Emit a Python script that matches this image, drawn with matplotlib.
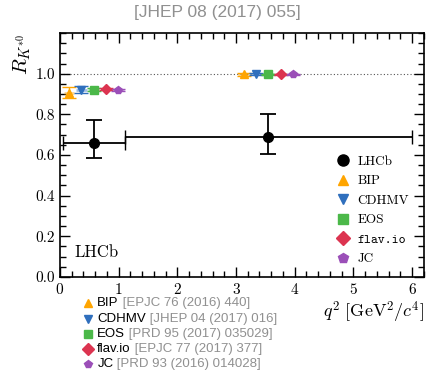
import matplotlib
matplotlib.use("Agg")
import matplotlib.pyplot as plt
from matplotlib.lines import Line2D
from matplotlib.text import Annotation
from matplotlib.ticker import MultipleLocator

plt.rcParams.update({
    "font.family": "serif",
    "font.serif": ["cmr10"],
    "mathtext.fontset": "cm",
    "axes.formatter.use_mathtext": True,
    "axes.unicode_minus": False,
})

# LHCb measurement: q^2 bins and R_K*0 with asymmetric errors
lhcb_lo = [0.045, 1.1]
lhcb_hi = [1.1, 6.0]
lhcb_x = [0.5725, 3.55]
lhcb_val = [0.66, 0.69]
lhcb_up = [0.113, 0.113]
lhcb_dn = [0.074, 0.087]

# Theory predictions per bin
pred_names = ["BIP", "CDHMV", "EOS", "flav.io", "JC"]
pred_refs = ["[EPJC 76 (2016) 440]", "[JHEP 04 (2017) 016]", "[PRD 95 (2017) 035029]",
             "[EPJC 77 (2017) 377]", "[PRD 93 (2016) 014028]"]
pred_colors = ["#ffa500", "#2f6fbd", "#4bb849", "#dc3450", "#9b4fb8"]
pred_markers = ["^", "v", "s", "D", "p"]
pred_offsets = [-0.42, -0.21, 0.0, 0.21, 0.42]
pred_val_low = [0.906, 0.922, 0.922, 0.925, 0.919]
pred_err_low = [0.028, 0.018, 0.007, 0.005, 0.004]
pred_val_cen = [0.996, 1.000, 0.997, 0.996, 0.996]
pred_err_cen = [0.006, 0.005, 0.002, 0.002, 0.002]

fig = plt.figure(figsize=(4.27, 3.70), dpi=100)
ax = fig.add_axes([0.1405, 0.2514, 0.852, 0.6594])

ax.axhline(1.0, color="#555555", ls=(0, (1, 2)), lw=0.8, zorder=1)

# predictions
for i in range(len(pred_names)):
    c = pred_colors[i]
    xs = [lhcb_x[0] + pred_offsets[i], lhcb_x[1] + pred_offsets[i]]
    ys = [pred_val_low[i], pred_val_cen[i]]
    es = [pred_err_low[i], pred_err_cen[i]]
    ms = 5.5 if pred_markers[i] != "D" else 5
    ax.errorbar(xs, ys, xerr=0.09, fmt="none", ecolor=c, alpha=0.45, elinewidth=2.0, zorder=2)
    ax.errorbar(xs, ys, yerr=es, fmt=pred_markers[i], color=c, ms=ms, capsize=5,
                elinewidth=1.0, capthick=1.0, zorder=3)

# LHCb data
xerr = [[lhcb_x[k] - lhcb_lo[k] for k in range(2)], [lhcb_hi[k] - lhcb_x[k] for k in range(2)]]
ax.errorbar(lhcb_x, lhcb_val, xerr=xerr, fmt="none", ecolor="black", elinewidth=1.3,
            capsize=5, capthick=1.0, zorder=4)
ax.errorbar(lhcb_x, lhcb_val, yerr=[lhcb_dn, lhcb_up], fmt="o", color="black", ms=7,
            elinewidth=1.3, capsize=5.5, capthick=1.3, zorder=5)

ax.set_xlim(0, 6.2)
ax.set_ylim(0, 1.2)
ax.set_xticks([0, 1, 2, 3, 4, 5, 6])
ax.set_yticks([0.0, 0.2, 0.4, 0.6, 0.8, 1.0])
ax.set_yticklabels(["0.0", "0.2", "0.4", "0.6", "0.8", "1.0"])
ax.xaxis.set_minor_locator(MultipleLocator(0.2))
ax.yaxis.set_minor_locator(MultipleLocator(0.05))
ax.tick_params(which="both", direction="in", top=True, right=True, labelsize=11)
ax.tick_params(which="major", length=7, width=1)
ax.tick_params(which="minor", length=4, width=1)
for s in ax.spines.values():
    s.set_linewidth(1.2)

ax.set_ylabel(r"$R_{K^{*0}}$", fontsize=15, loc="top", labelpad=2)
ax.set_xlabel(r"$q^2\ [\mathrm{GeV}^2/c^4]$", fontsize=13, loc="right", labelpad=2)

ax.text(0.04, 0.1, "LHCb", transform=ax.transAxes, fontsize=12, va="center")

handles = [Line2D([], [], ls="none", marker="o", color="black", ms=8)]
for i in range(len(pred_names)):
    handles.append(Line2D([], [], ls="none", marker=pred_markers[i], color=pred_colors[i], ms=7))
leg = ax.legend(handles, ["LHCb"] + pred_names, loc="lower right", bbox_to_anchor=(0.985, 0.01),
                frameon=False, fontsize=9.5, handlelength=1.2, handletextpad=0.5,
                labelspacing=0.55, borderaxespad=0.3)
for t in leg.get_texts():
    if t.get_text() == "flav.io":
        t.set_family("cmtt10")

# header
fig.text(0.51, 0.965, "[JHEP 08 (2017) 055]", ha="center", va="center", fontsize=12.5,
         color="#909090", family="Liberation Sans")

# reference list below the axes
rows_y = [0.181, 0.138, 0.097, 0.057, 0.017]
for i in range(len(pred_names)):
    y = rows_y[i]
    fig.lines.append(Line2D([0.207], [y], transform=fig.transFigure, ls="none",
                            marker=pred_markers[i], color=pred_colors[i], ms=6))
    name = fig.text(0.228, y, pred_names[i], ha="left", va="center", fontsize=9.5,
                    color="black", family="Liberation Sans")
    fig.add_artist(Annotation(" " + pred_refs[i], xy=(1, 0.5), xycoords=name,
                              ha="left", va="center", fontsize=9.5,
                              color="#909090", family="Liberation Sans"))

fig.savefig("out.png", dpi=100)
